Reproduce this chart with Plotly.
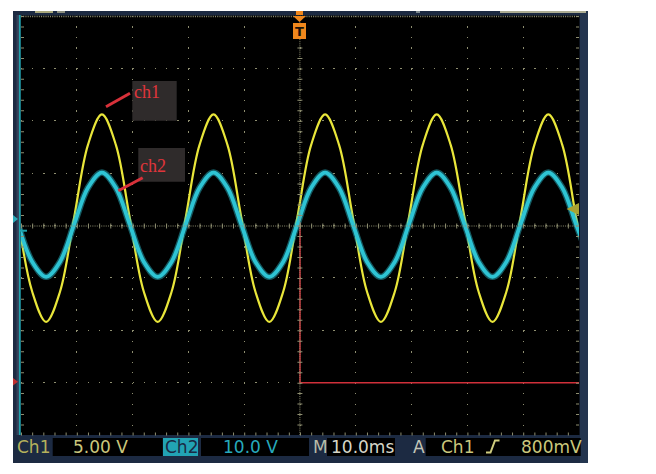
import plotly.graph_objects as go

time_ms = [-50.5, -48.0, -45.5, -43.0, -40.5, -38.0, -35.5, -33.0, -30.5, -28.0,
           -25.5, -23.0, -20.5, -18.0, -15.5, -13.0, -10.5, -8.0, -5.5, -3.0,
           -0.5, 2.0, 4.5, 7.0, 9.5, 12.0, 14.5, 17.0, 19.5, 22.0,
           24.5, 27.0, 29.5, 32.0, 34.5, 37.0, 39.5, 42.0, 44.5, 47.0,
           49.5, 52.0]
ch1_volts = [0.7, -6.3, -9.2, -6.3, 0.7, 7.7, 10.6, 7.7,
             0.7, -6.3, -9.2, -6.3, 0.7, 7.7, 10.6, 7.7,
             0.7, -6.3, -9.2, -6.3, 0.7, 7.7, 10.6, 7.7,
             0.7, -6.3, -9.2, -6.3, 0.7, 7.7, 10.6, 7.7,
             0.7, -6.3, -9.2, -6.3, 0.7, 7.7, 10.6, 7.7,
             0.7, -6.3]
ch2_volts = [0.15, -6.9, -9.8, -6.9, 0.15, 7.2, 10.1, 7.2,
             0.15, -6.9, -9.8, -6.9, 0.15, 7.2, 10.1, 7.2,
             0.15, -6.9, -9.8, -6.9, 0.15, 7.2, 10.1, 7.2,
             0.15, -6.9, -9.8, -6.9, 0.15, 7.2, 10.1, 7.2,
             0.15, -6.9, -9.8, -6.9, 0.15, 7.2, 10.1, 7.2,
             0.15, -6.9]
ref_time_ms = [0.0, 0.0, 50.0]
ref_div = [0.06, -3.0, -3.0]

CH1_VDIV = 5.0
CH2_VDIV = 10.0
status_labels = ["Ch1", "5.00 V", "Ch2", "10.0 V", "M", "10.0ms", "A", "Ch1", "800mV"]
marker_labels = ["ch1", "ch2"]

# ---------------- geometry helpers (pixel -> paper) ----------------
W, H = 656, 474
ML, MR, MT, MB = 21, 77, 16, 39
PW, PH = W - ML - MR, H - MT - MB


def px(x):
    return (x - ML) / PW


def py(y):
    return (H - MB - y) / PH


def rect(x0, y0, x1, y1, color, layer="above"):
    return dict(type="rect", xref="paper", yref="paper", x0=px(x0), x1=px(x1),
                y0=py(y1), y1=py(y0), fillcolor=color, line=dict(width=0), layer=layer)


def path(points, color, layer="above"):
    d = "M " + " L ".join(f"{px(a):.5f},{py(b):.5f}" for a, b in points) + " Z"
    return dict(type="path", xref="paper", yref="paper", path=d, fillcolor=color,
                line=dict(width=0), layer=layer)


def seg(x0, y0, x1, y1, color, width, dash="solid", layer="above"):
    return dict(type="line", xref="paper", yref="paper", x0=px(x0), y0=py(y0),
                x1=px(x1), y1=py(y1), line=dict(color=color, width=width, dash=dash),
                layer=layer)


NAVY = "#1c2a42"
YEL = "#e9e63a"
CYAN = "#2ec4d4"
RED = "#d8313a"
GRID = "#8e8e70"

fig = go.Figure()

ch1_div = [v / CH1_VDIV for v in ch1_volts]
ch2_div = [v / CH2_VDIV for v in ch2_volts]

fig.add_trace(go.Scatter(x=ref_time_ms, y=ref_div, mode="lines",
                         line=dict(color="#d0303a", width=1.5), hoverinfo="skip"))
fig.add_trace(go.Scatter(x=time_ms, y=ch1_div, mode="lines",
                         line=dict(color=YEL, width=2.2, shape="spline"), hoverinfo="skip"))
fig.add_trace(go.Scatter(x=time_ms, y=ch2_div, mode="lines", opacity=0.45,
                         line=dict(color=CYAN, width=6.5, shape="spline"), hoverinfo="skip"))
fig.add_trace(go.Scatter(x=time_ms, y=ch2_div, mode="lines",
                         line=dict(color=CYAN, width=3.8, shape="spline"), hoverinfo="skip"))

shapes = []
# outer screen frame
shapes.append(rect(13, 11, 588, 463, NAVY, layer="below"))
shapes.append(rect(580, 11, 588, 463, "#24354f", layer="below"))
shapes.append(rect(16.5, 15, 19, 435, "#34405a", layer="below"))
shapes.append(rect(20.5, 15.5, 579.5, 435, "#000000", layer="below"))
# cut-off top status pieces
shapes.append(rect(35, 11, 53, 13, "#a9a87c"))
shapes.append(rect(57, 11, 65, 13, "#8d9080"))
shapes.append(rect(500, 11, 586, 13, "#aeae94"))
shapes.append(rect(416, 11, 420, 13, "#7e8a90"))

# centre cross tick marks and edge ticks
shapes.append(seg(21, 226, 579, 226, GRID, 1, dash="1px,1.23px"))
shapes.append(seg(21, 226, 579, 226, GRID, 5, dash="1px,10.16px"))
shapes.append(seg(299.9, 16, 299.9, 435, GRID, 1, dash="1px,1.1px"))
shapes.append(seg(299.9, 16, 299.9, 435, GRID, 5, dash="1px,9.475px"))
shapes.append(seg(21, 16.5, 579, 16.5, GRID, 1.5, dash="1px,1.23px"))
shapes.append(seg(21, 434, 579, 434, GRID, 3, dash="1px,10.16px"))
shapes.append(seg(577.5, 16, 577.5, 435, GRID, 3, dash="1px,9.475px"))
shapes.append(seg(22.5, 16, 22.5, 435, GRID, 3, dash="1px,9.475px"))
# cyan left line
shapes.append(seg(19.8, 15, 19.8, 435, "#1fa3ad", 1.8))
shapes.append(seg(20, 230.7, 27, 230.7, "#1fa3ad", 2))

# left channel markers
shapes.append(path([(13, 215), (18, 219), (13, 223)], "#2aa9b8"))
shapes.append(path([(13, 378), (18, 381.7), (13, 385.5)], "#c03030"))
# trigger level marker (right)
shapes.append(path([(566.5, 209), (579, 203), (579, 215)], "#a9a232"))

# trigger position marker
ORANGE = "#f0871c"
shapes.append(rect(296, 11, 303, 15, ORANGE))
shapes.append(path([(293, 16), (306, 16), (299.5, 22)], ORANGE))
shapes.append(rect(293, 23, 306, 39, ORANGE))

# label boxes and pointers
shapes.append(rect(132.3, 81, 176.7, 120.7, "#2f2b2b"))
shapes.append(rect(138.3, 148, 185, 181.7, "#2f2b2b"))
shapes.append(seg(106, 106.7, 130, 93.3, RED, 3))
shapes.append(seg(118.3, 190.7, 142.7, 177.7, RED, 3))

# status bar boxes
shapes.append(rect(52.7, 438, 162.7, 456, "#000000"))
shapes.append(rect(163, 438, 198, 456, "#22a3b4"))
shapes.append(rect(201, 438, 309, 456, "#000000"))
shapes.append(rect(327, 438, 395, 456, "#000000"))
shapes.append(rect(425.7, 438, 580.7, 456, "#000000"))
# rising edge symbol
edge = [(486, 452.5), (490.5, 452.5), (495, 440.5), (499.5, 440.5)]
shapes.append(dict(type="path", xref="paper", yref="paper",
                   path="M " + " L ".join(f"{px(a):.5f},{py(b):.5f}" for a, b in edge),
                   line=dict(color="#cfcc7e", width=2)))

annotations = []


def text(x, y, s, color, size=17, family="DejaVu Sans", xanchor="left", bold=False):
    annotations.append(dict(xref="paper", yref="paper", x=px(x), y=py(y), text=(f"<b>{s}</b>" if bold else s),
                            showarrow=False, xanchor=xanchor, yanchor="middle",
                            font=dict(color=color, size=size, family=family)))


TY = 447
text(14.5, TY, status_labels[0], "#b6b25c")
text(70.5, TY, status_labels[1], "#cbc77c")
text(162.5, TY, status_labels[2], "#1a2a44")
text(220.5, TY, status_labels[3], "#27aabc")
text(310.5, TY, status_labels[4], "#b9bca8")
text(328.5, TY, status_labels[5], "#d6d6c8")
text(410.5, TY, status_labels[6], "#c4c6b8")
text(438.5, TY, status_labels[7], "#cbc77c")
text(519, TY, status_labels[8], "#cbc77c")
text(299.5, 31.5, "T", "#1a1208", size=13, xanchor="center", bold=True)
text(131.5, 91.5, marker_labels[0], "#e0353b", size=18, family="Liberation Serif")
text(137.8, 166.2, marker_labels[1], "#e0353b", size=18, family="Liberation Serif")

fig.update_layout(
    width=W, height=H,
    margin=dict(l=ML, r=MR, t=MT, b=MB, pad=0),
    paper_bgcolor="white", plot_bgcolor="black",
    showlegend=False,
    xaxis=dict(range=[-50, 50], tick0=-50, dtick=10, showgrid=True, gridcolor=GRID,
               gridwidth=1.3, griddash="1.3px,9.175px", showticklabels=False,
               zeroline=False, showline=False, ticks="", fixedrange=True),
    yaxis=dict(range=[-4, 4], tick0=-4, dtick=1, showgrid=True, gridcolor=GRID,
               gridwidth=1.3, griddash="1.3px,9.86px", showticklabels=False,
               zeroline=False, showline=False, ticks="", fixedrange=True),
    shapes=shapes,
    annotations=annotations,
)

fig.write_html("out.html", config={"displayModeBar": False},
               post_script="document.body.style.margin='0';")
